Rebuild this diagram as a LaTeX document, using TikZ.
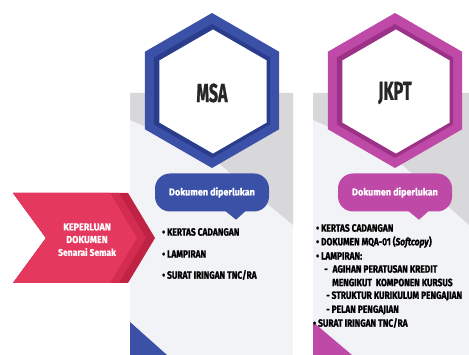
\documentclass[tikz,border=0pt]{standalone}
\usepackage{fontspec}
\usepackage{tikz}
\usepackage{xcolor}
\setmainfont{Fira Sans}
\newfontfamily\itemfont{Fira Sans}[FakeStretch=0.8,FakeBold=1.2]
\newfontfamily\titlefont{Fira Sans}[FakeStretch=0.62,FakeBold=0.8]
\newfontfamily\chevfont{Fira Sans}[FakeStretch=0.9,FakeBold=0.8]
\usetikzlibrary{shapes.geometric,calc}

\definecolor{msablue}{RGB}{59,81,168}
\definecolor{msadark}{RGB}{42,60,140}
\definecolor{jkptpink}{RGB}{190,73,167}
\definecolor{jkptdark}{RGB}{156,50,136}
\definecolor{chevred}{RGB}{228,56,94}
\definecolor{chevmid}{RGB}{211,44,80}
\definecolor{chevdark}{RGB}{192,34,68}
\definecolor{panelbg}{RGB}{242,243,246}
\definecolor{panelgrey}{RGB}{216,216,219}

\tikzset{
    hexa/.style={regular polygon, regular polygon sides=6, shape border rotate=30, inner sep=0pt, minimum size=#1},
    title/.style={inner sep=0pt, text=black!85, font=\titlefont\bfseries\fontsize{26}{26}\selectfont},
    bubble/.style={rounded corners=15pt, minimum width=114pt, minimum height=38pt, inner sep=0pt, text=white, font=\chevfont\bfseries\fontsize{10}{11}\selectfont},
    chevtext/.style={inner sep=0pt, text=white, font=\chevfont\bfseries\fontsize{10}{11}\selectfont},
    item/.style={anchor=west, inner sep=0pt, text=black, font=\itemfont\bfseries\fontsize{10.5}{12}\selectfont},
}

\begin{document}
\begin{tikzpicture}[x=1pt,y=-1pt]
            %\draw[help lines] (0,0) grid (469,355);
            \useasboundingbox (0,0) rectangle (469,355);

            % panels
            \fill[panelbg] (130,93) rectangle (293,355);
            \fill[panelgrey] (130,93) -- (293,93) -- (293,225) -- (205,152) -- (130,120) -- cycle;
            \fill[panelbg] (313,93) rectangle (469,355);
            \fill[panelgrey] (313,93) -- (469,93) -- (469,225) -- (388,152) -- (313,120) -- cycle;
            \fill[msablue] (130,322) -- (167,355) -- (130,355) -- cycle;
            \fill[jkptpink] (313,322) -- (352,355) -- (313,355) -- cycle;

            % chevron
            \foreach \dx/\col in {18/chevdark, 9/chevmid, 0/chevred}
            {
                \fill[\col] (13,193) -- (110+\dx,193) -- (137+\dx,238) -- (110+\dx,283) -- (13,283) -- (46,238) -- cycle;
            }
            \node[chevtext] (need1) at (87,227) {KEPERLUAN};
            \node[chevtext] (need2) at (87,239.5) {DOKUMEN};
            \node[chevtext, font=\chevfont\bfseries\fontsize{9.5}{10}\selectfont] (need3) at (87,252) {Senarai Semak};

            % hexagons and bubbles
            \foreach \name/\cx/\col/\dk/\lbl in {msa/212/msablue/msadark/MSA, jkpt/395/jkptpink/jkptdark/JKPT}
            {
                \node[hexa=155pt, fill=\col] (\name hex) at (\cx,90.5) {};
                \node[hexa=134pt, fill=\dk] (\name ring) at (\cx,91) {};
                \node[hexa=124pt, fill=white] (\name core) at (\cx+1,91.5) {};
                \node[title] (\name) at (\cx,93) {\lbl};
                \node[bubble, fill=\col] (\name bub) at (\cx,192.5) {Dokumen diperlukan};
                \fill[\col] ($(\name bub.south)+(13,-1)$) -- ($(\name bub.south)+(24,8)$) -- ($(\name bub.south)+(34,-1)$) -- cycle;
            }

            % lists
            \node[item] (msa1) at (162,232) {• KERTAS CADANGAN};
            \node[item] (msa2) at (162,254) {• LAMPIRAN};
            \node[item] (msa3) at (162,275) {• SURAT IRINGAN TNC/RA};

            \node[item] (jkpt1) at (316,228) {• KERTAS CADANGAN};
            \node[item] (jkpt2) at (316,242) {• DOKUMEN MQA-01 (\textit{Softcopy})};
            \node[item] (jkpt3) at (316,256) {• LAMPIRAN:};
            \node[item] (jkpt4) at (324,269) {-\hspace{5pt}AGIHAN PERATUSAN KREDIT};
            \node[item] (jkpt5) at (332,282.5) {MENGIKUT\ \ KOMPONEN KURSUS};
            \node[item] (jkpt6) at (326,296) {- STRUKTUR KURIKULUM PENGAJIAN};
            \node[item] (jkpt7) at (326,310) {- PELAN PENGAJIAN};
            \node[item] (jkpt8) at (313,323) {• SURAT IRINGAN TNC/RA};
\end{tikzpicture}
\end{document}
